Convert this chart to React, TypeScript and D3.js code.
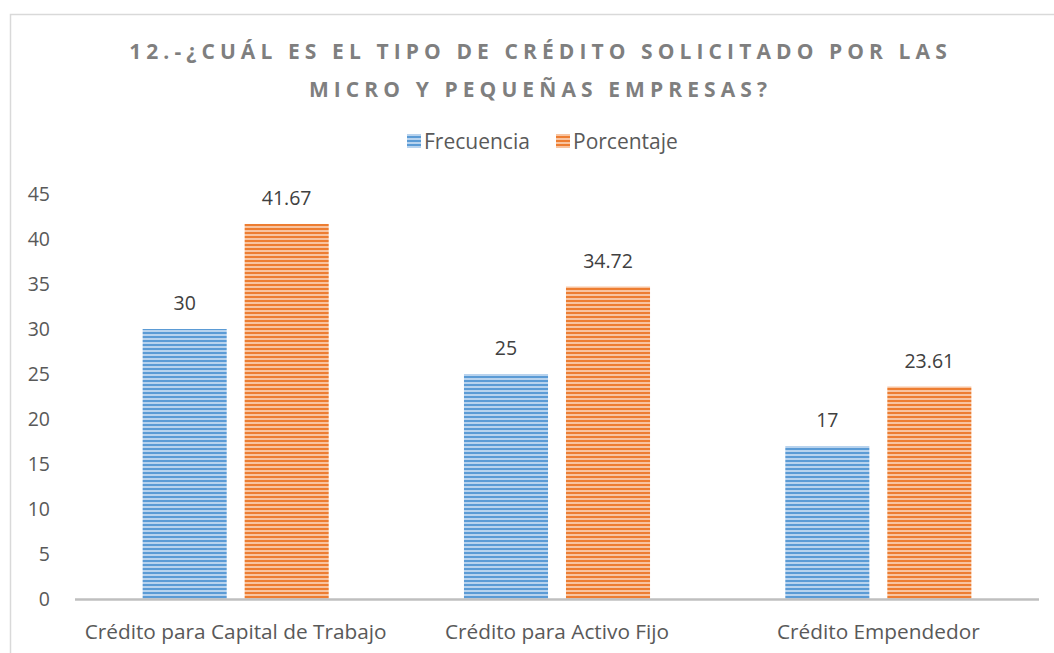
import React from "react";
import * as d3 from "d3";

const categories = ["Crédito para Capital de Trabajo", "Crédito para Activo Fijo", "Crédito Empendedor"];
const seriesNames = ["Frecuencia", "Porcentaje"];
const frecuencia = [30, 25, 17];
const porcentaje = [41.67, 34.72, 23.61];
const yTicks = [0, 5, 10, 15, 20, 25, 30, 35, 40, 45];
const titleLines = ["12.-¿CUÁL ES EL TIPO DE CRÉDITO SOLICITADO POR LAS", "MICRO Y PEQUEÑAS EMPRESAS?"];

const W = 1054;
const H = 653;
const FONT = "'Open Sans', 'Liberation Sans', sans-serif";

export default function App() {
  const x0 = d3.scaleBand<string>().domain(categories).range([75, 1039]).paddingInner(0).paddingOuter(0);
  const x1 = d3
    .scaleBand<string>()
    .domain(seriesNames)
    .range([0, x0.bandwidth()])
    .paddingInner(0.176)
    .paddingOuter(0.663);
  const y = d3.scaleLinear().domain([0, 45]).range([599, 194]);

  const series = [
    { name: "Frecuencia", values: frecuencia, fill: "url(#stripeBlue)", labels: frecuencia.map((v) => String(v)) },
    { name: "Porcentaje", values: porcentaje, fill: "url(#stripeOrange)", labels: porcentaje.map((v) => v.toFixed(2)) },
  ];

  return (
    <svg
      width={W}
      height={H}
      style={{ position: "absolute", left: 0, top: 0, display: "block", background: "#fff" }}
    >
      <defs>
        <pattern id="stripeBlue" patternUnits="userSpaceOnUse" width="8" height="4">
          <rect x="0" y="0" width="8" height="4" fill="#b8d3ee" />
          <rect x="0" y="0" width="8" height="2" fill="#5b9bd5" />
        </pattern>
        <pattern id="stripeOrange" patternUnits="userSpaceOnUse" width="8" height="4">
          <rect x="0" y="0" width="8" height="4" fill="#f8c4a0" />
          <rect x="0" y="0" width="8" height="2" fill="#ed7d31" />
        </pattern>
      </defs>

      <rect x={10.5} y={14.5} width={W + 20} height={H + 20} fill="#fff" stroke="#d9d9d9" strokeWidth={1.5} />

      {titleLines.map((t, i) => (
        <text
          key={i}
          x={540.5}
          y={58.5 + i * 38}
          textAnchor="middle"
          fontFamily={FONT}
          fontSize={21}
          fontWeight="bold"
          letterSpacing={5.1}
          fill="#7f7f7f"
        >
          {t}
        </text>
      ))}

      {/* legend */}
      {series.map((s, i) => {
        const lx = [407, 556][i];
        return (
          <g key={s.name}>
            <rect x={lx} y={134} width={14} height={14} fill={s.fill} />
            <text x={lx + 17} y={148.5} fontFamily={FONT} fontSize={21} fill="#595959">
              {s.name}
            </text>
          </g>
        );
      })}

      {/* y tick labels */}
      {yTicks.map((t) => (
        <text
          key={t}
          x={50}
          y={y(t) + 7}
          textAnchor="end"
          fontFamily={FONT}
          fontSize={19.5}
          fill="#595959"
        >
          {t}
        </text>
      ))}

      {/* bars */}
      {series.map((s) =>
        categories.map((c, ci) => {
          const bx = (x0(c) as number) + (x1(s.name) as number);
          const by = y(s.values[ci]);
          return (
            <g key={s.name + c}>
              <rect x={bx} y={by} width={x1.bandwidth()} height={y(0) - by} fill={s.fill} />
              <text
                x={bx + x1.bandwidth() / 2}
                y={by - 19}
                textAnchor="middle"
                fontFamily={FONT}
                fontSize={19.5}
                fill="#404040"
              >
                {s.labels[ci]}
              </text>
            </g>
          );
        })
      )}

      {/* axis line */}
      <line x1={75} x2={1039} y1={599.5} y2={599.5} stroke="#bfbfbf" strokeWidth={2.5} />

      {/* category labels */}
      {categories.map((c) => (
        <text
          key={c}
          x={(x0(c) as number) + x0.bandwidth() / 2}
          y={639}
          textAnchor="middle"
          fontFamily={FONT}
          fontSize={20.8}
          fill="#595959"
        >
          {c}
        </text>
      ))}
    </svg>
  );
}
